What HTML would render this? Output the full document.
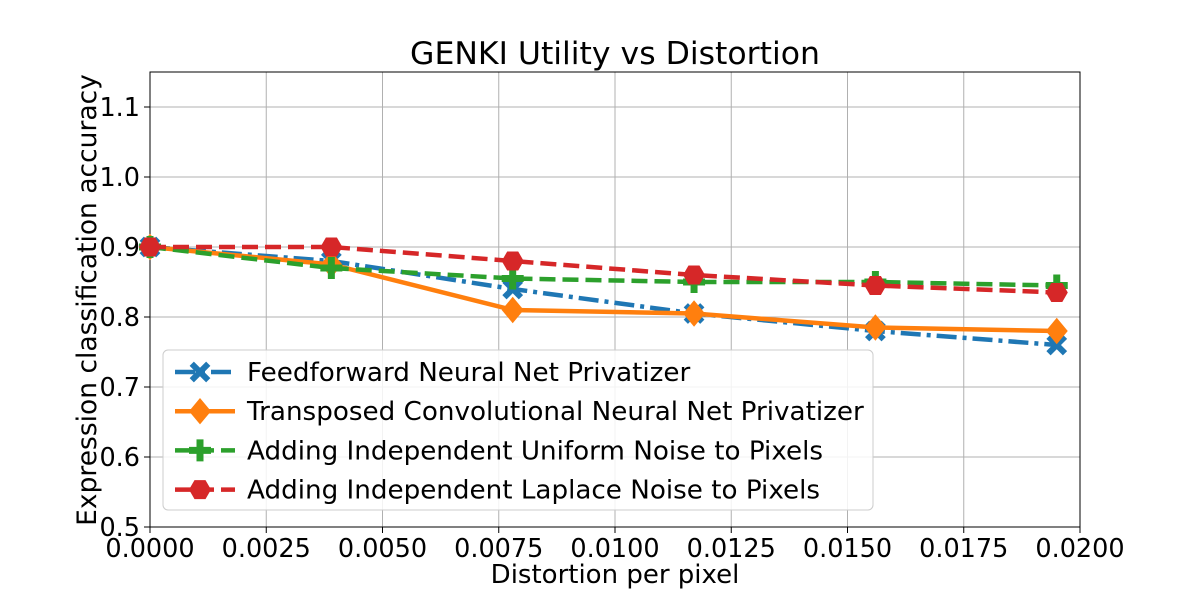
<!DOCTYPE html>
<html><head><meta charset="utf-8"><style>
html,body{margin:0;padding:0;background:#fff;}
svg{display:block;font-family:"DejaVu Sans","Liberation Sans",sans-serif;}
</style></head><body>
<svg id="chart" width="1200" height="592" viewBox="0 0 1200 592" xmlns="http://www.w3.org/2000/svg">
<g id="grid"></g>
<g id="axes"></g>
<g id="series"></g>
<text x="615" y="64" font-size="31.5" text-anchor="middle" fill="#000">GENKI Utility vs Distortion</text>
<text x="615" y="583" font-size="26" text-anchor="middle" fill="#000">Distortion per pixel</text>
<text transform="translate(96,300) rotate(-90)" font-size="26.5" text-anchor="middle" fill="#000">Expression classification accuracy</text>
<g id="legend"></g>
</svg>
<script>
const xValues=[0,0.0039,0.0078,0.0117,0.0156,0.0195];
const feedforward=[0.9,0.88,0.84,0.805,0.78,0.76];
const transposed=[0.9,0.875,0.81,0.805,0.785,0.78];
const uniformNoise=[0.9,0.87,0.855,0.85,0.85,0.845];
const laplaceNoise=[0.9,0.9,0.88,0.86,0.845,0.835];
const xTicks=[0,0.0025,0.005,0.0075,0.01,0.0125,0.015,0.0175,0.02];
const xTickLabels=["0.0000","0.0025","0.0050","0.0075","0.0100","0.0125","0.0150","0.0175","0.0200"];
const yTicks=[0.5,0.6,0.7,0.8,0.9,1.0,1.1];
const yTickLabels=["0.5","0.6","0.7","0.8","0.9","1.0","1.1"];
const legendLabels=["Feedforward Neural Net Privatizer","Transposed Convolutional Neural Net Privatizer","Adding Independent Uniform Noise to Pixels","Adding Independent Laplace Noise to Pixels"];

const L=150,R=1080,T=72,B=527,xMin=0,xMax=0.02,yMin=0.5,yMax=1.15;
const sx=v=>L+(v-xMin)/(xMax-xMin)*(R-L);
const sy=v=>B-(v-yMin)/(yMax-yMin)*(B-T);
const NS="http://www.w3.org/2000/svg";
function mk(tag,attrs,parent){const e=document.createElementNS(NS,tag);for(const k in attrs)e.setAttribute(k,attrs[k]);parent.appendChild(e);return e;}
const grid=document.getElementById('grid'),axes=document.getElementById('axes'),series=document.getElementById('series'),legend=document.getElementById('legend');

xTicks.forEach((t,i)=>{
 const gl=mk('line',{x1:sx(t),x2:sx(t),y1:T,y2:B,stroke:'#b0b0b0','stroke-width':1},grid);
 
 const tk=mk('line',{x1:sx(t),x2:sx(t),y1:B,y2:B+6,stroke:'#000','stroke-width':1},axes);
 
 const tx=mk('text',{x:sx(t),y:B+30,'font-size':25.5,'text-anchor':'middle'},axes);tx.textContent=xTickLabels[i];
 
});
yTicks.forEach((t,i)=>{
 const gl=mk('line',{x1:L,x2:R,y1:sy(t),y2:sy(t),stroke:'#b0b0b0','stroke-width':1},grid);
 
 const tk=mk('line',{x1:L-6,x2:L,y1:sy(t),y2:sy(t),stroke:'#000','stroke-width':1},axes);
 
 const tx=mk('text',{x:L-10,y:sy(t)+9,'font-size':25.5,'text-anchor':'end'},axes);tx.textContent=yTickLabels[i];
 
});
const frame=mk('rect',{x:L,y:T,width:R-L,height:B-T,fill:'none',stroke:'#000','stroke-width':1},axes);


function marker(type,x,y,color,parent,s){
 let e;
 if(type==='x'){const d=s*0.75;e=mk('path',{d:`M${x-d},${y-d}L${x+d},${y+d}M${x-d},${y+d}L${x+d},${y-d}`,stroke:color,'stroke-width':6,fill:'none'},parent);}
 else if(type==='diamond'){e=mk('path',{d:`M${x},${y-s*1.2}L${x+s},${y}L${x},${y+s*1.2}L${x-s},${y}Z`,fill:color},parent);}
 else if(type==='plus'){e=mk('path',{d:`M${x-s},${y}L${x+s},${y}M${x},${y-s}L${x},${y+s}`,stroke:color,'stroke-width':7,fill:'none'},parent);}
 else {let p=[];for(let k=0;k<6;k++){const a=Math.PI/3*k;p.push((x+s*Math.cos(a)).toFixed(1)+','+(y+s*Math.sin(a)).toFixed(1));}e=mk('polygon',{points:p.join(' '),fill:color},parent);}
 return e;
}
const defs=[
 {name:'feedforward',data:feedforward,color:'#1f77b4',dash:'20,6,4,6',m:'x'},
 {name:'transposed',data:transposed,color:'#ff7f0e',dash:'',m:'diamond'},
 {name:'uniform-noise',data:uniformNoise,color:'#2ca02c',dash:'16,7',m:'plus'},
 {name:'laplace-noise',data:laplaceNoise,color:'#d62728',dash:'16,7',m:'hex'}
];
defs.forEach(d=>{
 const g=mk('g',{},series);
 
 const pts=d.data.map((v,i)=>sx(xValues[i])+','+sy(v)).join(' ');
 const pl=mk('polyline',{points:pts,fill:'none',stroke:d.color,'stroke-width':4.5,'stroke-dasharray':d.dash},g);
 
 d.data.forEach((v,i)=>{const m=marker(d.m,sx(xValues[i]),sy(v),d.color,g,11);
  });
});
const lb=mk('rect',{x:163,y:350,width:710,height:160,rx:5,fill:'#fff','fill-opacity':0.85,stroke:'#ccc','stroke-width':1},legend);

defs.forEach((d,i)=>{
 const y=372+i*39.2;
 const g=mk('g',{},legend);
 
 mk('line',{x1:175,x2:235,y1:y,y2:y,stroke:d.color,'stroke-width':4.5,'stroke-dasharray':d.dash},g);
 marker(d.m,200,y,d.color,g,11);
 const t=mk('text',{x:247,y:y+9,'font-size':26.2},g);t.textContent=legendLabels[i];
 
});
</script>
</body></html>
